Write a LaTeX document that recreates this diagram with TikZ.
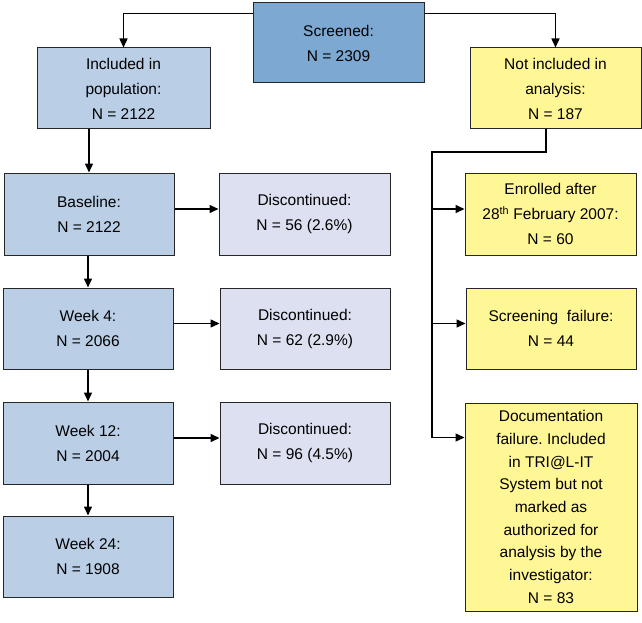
\documentclass[tikz,border=0pt]{standalone}
\usepackage{fontspec}
\setmainfont{Liberation Sans}
\usetikzlibrary{arrows.meta}
\frenchspacing
\definecolor{scrblue}{RGB}{125,168,210}
\definecolor{lblue}{RGB}{186,206,230}
\definecolor{lav}{RGB}{221,224,240}
\definecolor{lyel}{RGB}{255,246,150}
\tikzset{
  box/.style={draw=black!85, line width=1pt, align=center, inner sep=0pt,
    font=\fontsize{15.5}{25}\selectfont},
  arr/.style={line width=1.5pt, -{Triangle[length=9pt,width=8pt]}},
  ln/.style={line width=1.5pt}
}
\begin{document}
\begin{tikzpicture}[x=1pt,y=-1pt]
\useasboundingbox (0,0) rectangle (642,623);
\node[box, fill=scrblue, minimum width=171pt, minimum height=80pt] (scr) at (338.5,43) {Screened:\\N = 2309};
\node[box, fill=lblue, minimum width=173pt, minimum height=81pt] (inc) at (123.5,88.5) {Included in\\population:\\N = 2122};
\node[box, fill=lyel, minimum width=171pt, minimum height=81pt] (notinc) at (555.5,88.5) {Not included in\\analysis:\\N = 187};
\node[box, fill=lblue, minimum width=170pt, minimum height=82pt] (base) at (89,214) {Baseline:\\N = 2122};
\node[box, fill=lblue, minimum width=170pt, minimum height=81pt] (w4) at (88,328.5) {Week 4:\\N = 2066};
\node[box, fill=lblue, minimum width=170pt, minimum height=82pt] (w12) at (88,443) {Week 12:\\N = 2004};
\node[box, fill=lblue, minimum width=170pt, minimum height=81pt] (w24) at (88,556.5) {Week 24:\\N = 1908};
\node[box, fill=lav, minimum width=171pt, minimum height=82pt] (d1) at (304.5,214) {Discontinued:\\N = 56 (2.6\%)};
\node[box, fill=lav, minimum width=170pt, minimum height=81pt] (d2) at (305,328.5) {Discontinued:\\N = 62 (2.9\%)};
\node[box, fill=lav, minimum width=170pt, minimum height=82pt] (d3) at (305,443) {Discontinued:\\N = 96 (4.5\%)};
\node[box, fill=lyel, minimum width=171pt, minimum height=82pt] (enr) at (550.5,214) {Enrolled after\\28\textsuperscript{th} February 2007:\\N = 60};
\node[box, fill=lyel, minimum width=170pt, minimum height=81pt] (sf) at (551,328.5) {Screening\ \ failure:\\N = 44};
\node[box, fill=lyel, minimum width=172pt, minimum height=208pt, font=\fontsize{15.5}{22.7}\selectfont] (doc) at (551,507) {Documentation\\failure. Included\\in TRI@L-IT\\System but not\\marked as\\authorized for\\analysis by the\\investigator:\\N = 83};
% top connectors
\draw[arr] ([yshift=-11pt]scr.north west) -| (inc.north);
\draw[arr] ([yshift=-11pt]scr.north east) -| (notinc.north);
% left column
\draw[arr] (inc.south -| base.north) -- (base.north);
\draw[arr] (base.south -| w4.north) -- (w4.north);
\draw[arr] (w4.south) -- (w12.north);
\draw[arr] (w12.south) -- (w24.north);
\draw[arr] ([yshift=5pt]base.east) -- ([yshift=5pt]base.east -| d1.west);
\draw[arr] ([yshift=5pt]w4.east) -- ([yshift=5pt]w4.east -| d2.west);
\draw[arr] ([yshift=5pt]w12.east) -- ([yshift=5pt]w12.east -| d3.west);
% right trunk
\coordinate (t0) at (432,152);
\coordinate (dIn) at ([yshift=-35pt]doc.north west);
\coordinate (eIn) at ([yshift=5pt]enr.west);
\coordinate (sIn) at ([yshift=5pt]sf.west);
\draw[arr] ([xshift=-9.5pt]notinc.south) |- (t0) |- (dIn);
\draw[arr] (t0 |- eIn) -- (eIn);
\draw[arr] (t0 |- sIn) -- (sIn);
\end{tikzpicture}
\end{document}
